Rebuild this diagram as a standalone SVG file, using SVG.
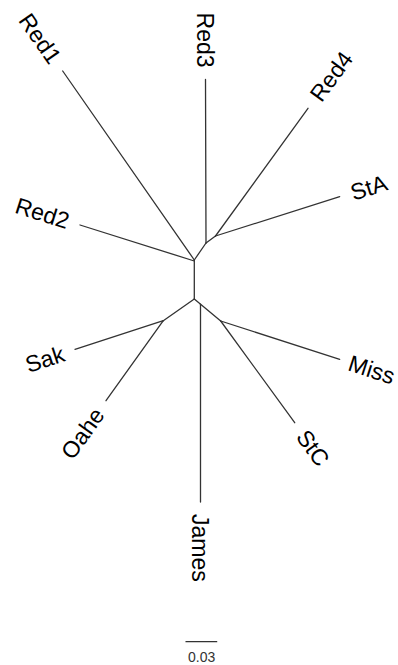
<svg xmlns="http://www.w3.org/2000/svg" width="398" height="665" viewBox="0 0 398 665">
<style>
.e{stroke:#333;stroke-width:1.3;fill:none;stroke-linecap:round}
.l{font-family:"Liberation Sans",Arial,sans-serif;font-size:23px;fill:#000}
.s{font-family:"Liberation Sans",Arial,sans-serif;font-size:14px;fill:#333;text-anchor:middle}
</style>
<rect width="398" height="665" fill="#fff"/>
<g id="connectors">
<line class="e" x1="194.3" y1="260" x2="62.7" y2="71"/>
<line class="e" x1="194.3" y1="261" x2="80" y2="225"/>
<line class="e" x1="194.3" y1="260" x2="206" y2="243"/>
<line class="e" x1="206" y1="243" x2="205.5" y2="79.5"/>
<line class="e" x1="206" y1="243" x2="215.5" y2="236"/>
<line class="e" x1="215.5" y1="236" x2="308" y2="108.3"/>
<line class="e" x1="215.5" y1="236" x2="339.7" y2="196.7"/>
<line class="e" x1="194.3" y1="260" x2="194.3" y2="299"/>
<line class="e" x1="194.3" y1="299" x2="163.3" y2="320.7"/>
<line class="e" x1="163.3" y1="320.7" x2="75" y2="349.3"/>
<line class="e" x1="163.3" y1="320.7" x2="106" y2="400.7"/>
<line class="e" x1="194.3" y1="299" x2="220.7" y2="321"/>
<line class="e" x1="200.5" y1="304.2" x2="200.5" y2="502"/>
<line class="e" x1="220.7" y1="321" x2="339.7" y2="359.3"/>
<line class="e" x1="220.7" y1="321" x2="294.7" y2="422.7"/>
</g>
<g id="Red1"><text class="l" text-anchor="end" dy=".35em" transform="translate(55.85,61.14) rotate(55.2)">Red1</text></g>
<g id="Red2"><text class="l" text-anchor="end" dy=".35em" transform="translate(68.55,221.4) rotate(17.5)">Red2</text></g>
<g id="Red3"><text class="l" text-anchor="end" dy=".35em" transform="translate(205.5,67.5) rotate(90)">Red3</text></g>
<g id="Red4"><text class="l" text-anchor="start" dy=".35em" transform="translate(315.06,98.6) rotate(-53.9)">Red4</text></g>
<g id="StA"><text class="l" text-anchor="start" dy=".35em" transform="translate(351.15,193.1) rotate(-17.5)">StA</text></g>
<g id="Miss"><text class="l" text-anchor="start" dy=".35em" transform="translate(349.2,362.4) rotate(17.8)">Miss</text></g>
<g id="StC"><text class="l" text-anchor="start" dy=".35em" transform="translate(301.76,432.4) rotate(54)">StC</text></g>
<g id="James"><text class="l" text-anchor="start" dy=".35em" transform="translate(200.5,514) rotate(90)">James</text></g>
<g id="Oahe"><text class="l" text-anchor="end" dy=".35em" transform="translate(99,410.5) rotate(-54.4)">Oahe</text></g>
<g id="Sak"><text class="l" text-anchor="end" dy=".35em" transform="translate(63.6,353) rotate(-18)">Sak</text></g>
<g id="scale">
<line class="e" x1="186" y1="641.7" x2="216.7" y2="641.7"/>
<text class="s" x="201.7" y="661.5">0.03</text>
</g>
</svg>
